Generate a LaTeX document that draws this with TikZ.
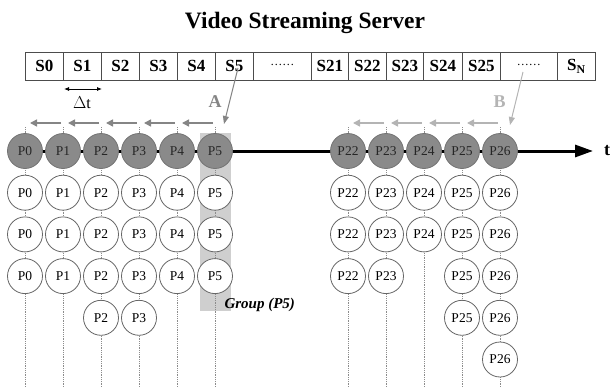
\documentclass[tikz,border=0pt]{standalone}
\usepackage{fontspec}
\setmainfont{Liberation Serif}
\usetikzlibrary{arrows.meta,backgrounds}

\definecolor{livefill}{HTML}{8A8A8A}
\definecolor{shiftA}{HTML}{858585}
\definecolor{shiftB}{HTML}{B4B4B4}
\definecolor{grpfill}{HTML}{CFCFCF}

\tikzset{
  pkt/.style={circle, draw=black!60, line width=0.8pt, minimum size=35pt,
    inner sep=0pt, fill=white, font=\fontsize{13.5}{14}\selectfont},
  livepkt/.style={pkt, fill=livefill, draw=black!55, text=black!85},
  cell/.style={draw=black!70, line width=0.8pt, minimum height=28pt,
    inner sep=0pt, anchor=north west, font=\bfseries\fontsize{17}{18}\selectfont},
  dotcell/.style={cell, font=\fontsize{12}{12}\selectfont},
  lifeline/.style={draw=black!45, line width=0.6pt, dash pattern=on 0.7pt off 1.1pt},
  shiftarrA/.style={draw=shiftA, line width=1.6pt, -{Triangle[length=7pt,width=7pt]}},
  shiftarrB/.style={draw=shiftB, line width=1.6pt, -{Triangle[length=7pt,width=7pt]}},
  joinarrA/.style={draw=shiftA, line width=1pt, -{Triangle[length=8pt,width=6pt]}},
  joinarrB/.style={draw=shiftB, line width=1pt, -{Triangle[length=8pt,width=6pt]}},
  timeline/.style={draw=black, line width=3pt, -{Triangle[length=18pt,width=12pt]}},
  joinlabel/.style={font=\bfseries\fontsize{18}{18}\selectfont},
}

\begin{document}
\begin{tikzpicture}[x=1pt,y=-1pt]
\useasboundingbox (0,0) rectangle (611,388);

% title
\node[font=\bfseries\fontsize{23.5}{24}\selectfont, anchor=base] (title) at (305,28) {Video Streaming Server};

% server segment buffer
\foreach \l/\w/\name/\txt in {25/38/s0/S0, 63/38/s1/S1, 101/38/s2/S2, 139/38/s3/S3,
    177/38/s4/S4, 215/38/s5/S5, 311/37/s21/S21, 348/38/s22/S22, 386/37/s23/S23,
    423/39/s24/S24, 462/38/s25/S25, 557/38/sN/{S\textsubscript{N}}}
  \node[cell, minimum width=\w pt] (\name) at (\l,52) {\txt};
\node[dotcell, minimum width=58pt] (gapA) at (253,52) {\raisebox{3.5pt}{……}};
\node[dotcell, minimum width=57pt] (gapB) at (500,52) {\raisebox{3.5pt}{……}};

% segment duration
\coordinate (dtL) at (64,89);
\coordinate (dtR) at (102,89);
\draw[line width=0.8pt, {Latex[length=5pt,width=4pt]}-{Latex[length=5pt,width=4pt]}] (dtL) -- (dtR);
\node[font=\fontsize{16}{16}\selectfont] (dtlabel) at (82,103) {$\Delta$t};

% client columns: x position / name / number of copies below the live packet
\foreach \x/\n/\k in {25/0/3, 63/1/3, 101/2/4, 139/3/4, 177/4/3, 215/5/3,
    348/22/3, 386/23/3, 424/24/2, 462/25/4, 500/26/5} {
  \coordinate (top\n) at (\x,127);
  \coordinate (bot\n) at (\x,388);
  \coordinate (sh\n) at (\x,123);
  \node[livepkt] (g\n) at (\x,151) {P\n};
  \foreach \r in {1,...,\k}
    \node[pkt] (w\n-\r) at (\x,{151+41.7*\r}) {P\n};
}

% time axis end
\coordinate (tend) at (593,151);
\node[font=\bfseries\fontsize{18}{18}\selectfont] (tlabel) at (607,151) {t};

\begin{scope}[on background layer]
  % group of clients sharing packet P5
  \fill[grpfill] (200,133) rectangle (231,311);
  \foreach \n in {0,1,2,3,4,5,22,23,24,25,26}
    \draw[lifeline] (top\n) -- (bot\n);
  \draw[timeline] (g0.center) -- (tend);
\end{scope}

\node[font=\bfseries\itshape\fontsize{15}{15}\selectfont, anchor=west] (grp) at (221,305) {Group (P5)};

% packet hand-over between neighbouring clients
\foreach \a/\b in {1/0, 2/1, 3/2, 4/3, 5/4}
  \draw[shiftarrA] ([xshift=-2pt]sh\a) -- ([xshift=5pt]sh\b);
\foreach \a/\b in {23/22, 24/23, 25/24, 26/25}
  \draw[shiftarrB] ([xshift=-2pt]sh\a) -- ([xshift=5pt]sh\b);

% new clients joining
\coordinate (aS) at (238,68);
\coordinate (aE) at (224,124);
\draw[joinarrA] (aS) -- (aE);
\node[joinlabel, text=shiftA] (labA) at (215,102) {A};
\coordinate (bS) at (523,72);
\coordinate (bE) at (510,125);
\draw[joinarrB] (bS) -- (bE);
\node[joinlabel, text=shiftB] (labB) at (499.5,102) {B};
\end{tikzpicture}
\end{document}
